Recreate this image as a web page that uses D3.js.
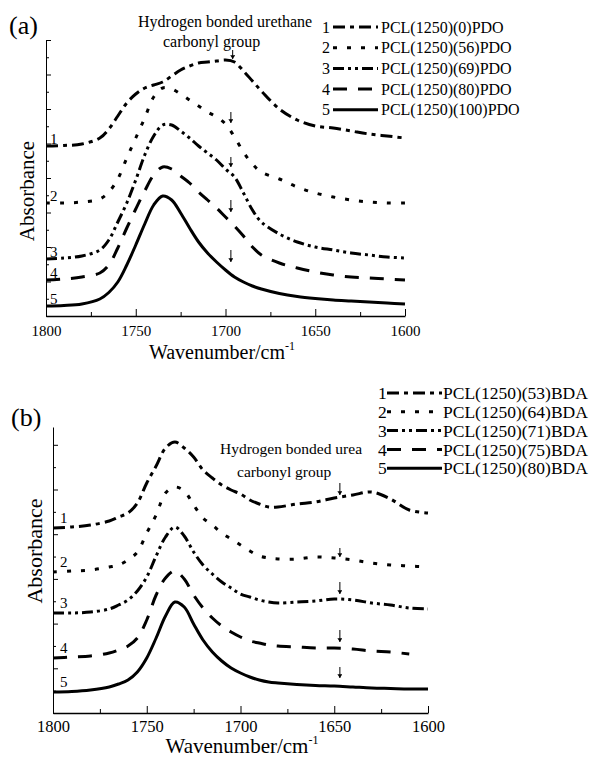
<!DOCTYPE html>
<html>
<head>
<meta charset="utf-8">
<script src="https://cdn.jsdelivr.net/npm/d3@7"></script>
<style>
  body { margin: 0; background: #fff; }
  text { font-family: "Liberation Serif", "Times New Roman", serif; fill: #000; }
</style>
</head>
<body>
<div id="chart"></div>
<script>
// wavenumber grid (cm-1) shared by all spectra
const wavenumbers = [1800, 1790, 1780, 1770, 1765, 1760, 1755, 1750, 1745, 1740, 1735, 1730, 1725, 1720, 1715,
  1710, 1705, 1700, 1695, 1690, 1685, 1680, 1670, 1660, 1650, 1640, 1630, 1620, 1610, 1600];

// panel (a): PDO series, absorbance (offset, arbitrary units)
const namesA = ["PCL(1250)(0)PDO", "PCL(1250)(56)PDO", "PCL(1250)(69)PDO", "PCL(1250)(80)PDO", "PCL(1250)(100)PDO"];
const a1 = [1.70, 1.705, 1.72, 1.78, 1.87, 2.00, 2.13, 2.22, 2.28, 2.31, 2.34, 2.40, 2.46, 2.50, 2.53, 2.54, 2.55, 2.56, 2.54, 2.45, 2.35, 2.25, 2.07, 1.96, 1.90, 1.88, 1.85, 1.82, 1.80, 1.78];
const a2 = [1.13, 1.13, 1.14, 1.17, 1.24, 1.37, 1.58, 1.78, 1.98, 2.19, 2.28, 2.27, 2.22, 2.16, 2.10, 2.04, 1.99, 1.92, 1.79, 1.64, 1.52, 1.44, 1.37, 1.29, 1.23, 1.19, 1.16, 1.14, 1.13, 1.13];
const a3 = [0.57, 0.58, 0.60, 0.66, 0.76, 0.94, 1.13, 1.36, 1.61, 1.80, 1.91, 1.91, 1.85, 1.78, 1.70, 1.63, 1.56, 1.47, 1.39, 1.23, 1.06, 0.94, 0.82, 0.74, 0.69, 0.66, 0.63, 0.61, 0.59, 0.58];
const a4 = [0.36, 0.37, 0.39, 0.43, 0.51, 0.68, 0.88, 1.07, 1.25, 1.41, 1.49, 1.47, 1.40, 1.33, 1.24, 1.16, 1.08, 0.99, 0.90, 0.80, 0.69, 0.61, 0.53, 0.48, 0.44, 0.41, 0.39, 0.38, 0.37, 0.36];
const a5 = [0.10, 0.105, 0.12, 0.17, 0.235, 0.34, 0.51, 0.71, 0.92, 1.11, 1.20, 1.16, 1.03, 0.88, 0.74, 0.63, 0.54, 0.46, 0.39, 0.34, 0.30, 0.27, 0.225, 0.195, 0.175, 0.16, 0.15, 0.14, 0.13, 0.12];

// panel (b): BDA series
const namesB = ["PCL(1250)(53)BDA", "PCL(1250)(64)BDA", "PCL(1250)(71)BDA", "PCL(1250)(75)BDA", "PCL(1250)(80)BDA"];
const b1 = [1.85, 1.86, 1.88, 1.92, 1.96, 2.00, 2.10, 2.30, 2.47, 2.65, 2.71, 2.65, 2.56, 2.43, 2.35, 2.28, 2.23, 2.19, 2.13, 2.09, 2.06, 2.06, 2.09, 2.11, 2.15, 2.18, 2.21, 2.14, 2.03, 2.00];
const b2 = [1.41, 1.42, 1.43, 1.46, 1.48, 1.53, 1.61, 1.80, 1.98, 2.20, 2.26, 2.22, 2.08, 1.95, 1.88, 1.80, 1.74, 1.68, 1.62, 1.57, 1.55, 1.54, 1.54, 1.56, 1.55, 1.53, 1.50, 1.48, 1.47, 1.46];
const b3 = [1.00, 1.00, 1.01, 1.04, 1.08, 1.13, 1.22, 1.36, 1.57, 1.76, 1.86, 1.77, 1.61, 1.48, 1.39, 1.31, 1.25, 1.19, 1.16, 1.13, 1.11, 1.10, 1.11, 1.12, 1.14, 1.13, 1.10, 1.08, 1.05, 1.04];
const b4 = [0.55, 0.56, 0.57, 0.60, 0.63, 0.67, 0.75, 0.93, 1.18, 1.35, 1.42, 1.34, 1.18, 1.05, 0.95, 0.87, 0.81, 0.76, 0.72, 0.70, 0.68, 0.67, 0.66, 0.65, 0.65, 0.64, 0.62, 0.61, 0.59, null];
const b5 = [0.21, 0.215, 0.23, 0.26, 0.29, 0.33, 0.41, 0.55, 0.75, 0.97, 1.11, 1.06, 0.89, 0.73, 0.61, 0.52, 0.45, 0.40, 0.36, 0.33, 0.31, 0.30, 0.285, 0.275, 0.27, 0.26, 0.25, 0.245, 0.24, 0.24];

// axis ticks
const xTicks = [1800, 1750, 1700, 1650, 1600];
const xMinorTicks = [1775, 1725, 1675, 1625];

// small arrows marking the H-bonded carbonyl band
const arrowWnA = [1696, 1697, 1697, 1697, 1697];
const arrowFromA = [2.66, 2.04, 1.59, 1.16, 0.66];
const arrowToA = [2.57, 1.93, 1.49, 1.04, 0.54];
const arrowWnB = [1647, 1647, 1647, 1647, 1647];
const arrowFromB = [2.30, 1.65, 1.31, 0.83, 0.46];
const arrowToB = [2.18, 1.56, 1.19, 0.71, 0.35];

const dashes = ["12,5,4,5", "4,10", "11,4,3,4,3,4", "14,11", null];

const width = 591, height = 760;
const svg = d3.select("#chart").append("svg")
  .attr("width", width)
  .attr("height", height);

svg.append("defs").append("marker")
  .attr("id", "head")
  .attr("viewBox", "0 0 6 8")
  .attr("refX", 6).attr("refY", 4)
  .attr("markerWidth", 4).attr("markerHeight", 5)
  .attr("markerUnits", "userSpaceOnUse")
  .attr("orient", "auto")
  .append("path")
  .attr("d", "M0,0 L6,4 L0,8 Z")
  .attr("fill", "#000");

function drawPanel(cfg, series, names, arrowWn, arrowFrom, arrowTo) {
  const g = svg.append("g");
  const x = d3.scaleLinear().domain([1800, 1600]).range([cfg.x0, cfg.x1]);
  const y = d3.scaleLinear().domain([0, cfg.ymax]).range([cfg.yBot, cfg.yTop]);

  // x axis, ticks point inward
  const xAxis = g.append("g")
    .attr("transform", `translate(0,${cfg.yBot})`)
    .call(d3.axisBottom(x).tickValues(xTicks).tickSize(-7).tickSizeOuter(0).tickPadding(cfg.tickPad).tickFormat(d3.format("d")));
  xAxis.select(".domain").attr("stroke-width", 1.4);
  xAxis.selectAll("text").style("font-size", cfg.tickSize + "px").style("font-family", "Liberation Serif");
  g.append("g")
    .attr("transform", `translate(0,${cfg.yBot})`)
    .call(d3.axisBottom(x).tickValues(xMinorTicks).tickSize(-4).tickSizeOuter(0).tickFormat(""))
    .select(".domain").remove();

  // y axis without labels
  const yMajor = d3.range(0, cfg.ymax + 0.001, cfg.ystep);
  g.append("g")
    .attr("transform", `translate(${cfg.x0},0)`)
    .call(d3.axisLeft(y).tickValues(yMajor).tickSize(-5).tickSizeOuter(0).tickFormat(""));
  g.append("g")
    .attr("transform", `translate(${cfg.x0},0)`)
    .call(d3.axisLeft(y).tickValues(yMajor.slice(0, -1).map(v => v + cfg.ystep / 2)).tickSize(-3).tickSizeOuter(0).tickFormat(""))
    .select(".domain").remove();
  g.selectAll(".tick line").attr("stroke-width", 1);

  // curves
  const line = d3.line()
    .defined(d => d[1] != null)
    .x(d => x(d[0]))
    .y(d => y(d[1]))
    .curve(d3.curveCatmullRom.alpha(0.5));

  series.forEach((vals, i) => {
    const pts = wavenumbers.map((w, j) => [w, vals[j]]);
    g.append("path")
      .attr("d", line(pts))
      .attr("fill", "none")
      .attr("stroke", "#000")
      .attr("stroke-width", 3)
      .attr("stroke-dasharray", dashes[i]);
    g.append("text")
      .attr("x", x(wavenumbers[0]) + cfg.numDx)
      .attr("y", y(vals[0]) + cfg.numDy)
      .style("font-size", "15px")
      .text(i + 1);
  });

  // arrows
  arrowWn.forEach((w, i) => {
    g.append("line")
      .attr("x1", x(w)).attr("x2", x(w))
      .attr("y1", y(arrowFrom[i])).attr("y2", y(arrowTo[i]))
      .attr("stroke", "#000")
      .attr("stroke-width", 1)
      .attr("marker-end", "url(#head)");
  });

  // annotation
  cfg.note.forEach(n => {
    g.append("text").attr("x", n.x).attr("y", n.y)
      .style("font-size", cfg.noteSize + "px").text(n.t);
  });

  // panel tag
  g.append("text").attr("x", cfg.tagX).attr("y", cfg.tagY)
    .style("font-size", "26px").text(cfg.tag);

  // axis titles
  const xt = g.append("text")
    .attr("x", cfg.titleX).attr("y", cfg.titleY)
    .attr("text-anchor", "middle")
    .style("font-size", cfg.titleSize + "px")
    .text("Wavenumber/cm");
  xt.append("tspan").attr("dy", -cfg.titleSize * 0.45).style("font-size", "12px").text("-1");

  g.append("text")
    .attr("transform", `translate(${cfg.ylabX},${cfg.ylabY}) rotate(-90)`)
    .attr("text-anchor", "middle")
    .style("font-size", cfg.ylabSize + "px")
    .text("Absorbance");

  // legend
  const leg = g.append("g").attr("transform", `translate(${cfg.legX},${cfg.legY})`);
  names.forEach((nm, i) => {
    const row = leg.append("g").attr("transform", `translate(0,${i * cfg.legRow})`);
    row.append("text").attr("x", 0).attr("y", 0).attr("dy", "0.35em")
      .style("font-size", cfg.legSize + "px").text(i + 1);
    row.append("line")
      .attr("x1", cfg.legLine[0]).attr("x2", cfg.legLine[1])
      .attr("y1", 0).attr("y2", 0)
      .attr("stroke", "#000").attr("stroke-width", 3)
      .attr("stroke-dasharray", dashes[i]);
    row.append("text").attr("x", cfg.legText).attr("y", 0).attr("dy", "0.35em")
      .style("font-size", cfg.legSize + "px").text(nm);
  });
}

drawPanel({
  x0: 46, x1: 405, yTop: 40, yBot: 316, ymax: 2.76, ystep: 0.345,
  tickSize: 15, tickPad: 9,
  numDx: 4, numDy: -2,
  note: [{ x: 138, y: 27, t: "Hydrogen bonded urethane" }, { x: 163, y: 47, t: "carbonyl group" }],
  noteSize: 16,
  tag: "(a)", tagX: 9, tagY: 34,
  titleX: 222, titleY: 359, titleSize: 20, ylabSize: 21,
  ylabX: 34, ylabY: 191,
  legX: 322, legY: 27, legRow: 20.7, legSize: 16, legLine: [11, 56], legText: 59
}, [a1, a2, a3, a4, a5], namesA, arrowWnA, arrowFromA, arrowToA);

drawPanel({
  x0: 53, x1: 428, yTop: 427, yBot: 713, ymax: 2.86, ystep: 0.447,
  tickSize: 16.5, tickPad: 7,
  numDx: 7, numDy: -5,
  note: [{ x: 220, y: 454, t: "Hydrogen bonded urea" }, { x: 237, y: 477, t: "carbonyl group" }],
  noteSize: 15.5,
  tag: "(b)", tagX: 11, tagY: 426,
  titleX: 242, titleY: 753, titleSize: 21, ylabSize: 22,
  ylabX: 42, ylabY: 551,
  legX: 378, legY: 393, legRow: 18.8, legSize: 17.5, legLine: [9, 64], legText: 65
}, [b1, b2, b3, b4, b5], namesB, arrowWnB, arrowFromB, arrowToB);
</script>
</body>
</html>
